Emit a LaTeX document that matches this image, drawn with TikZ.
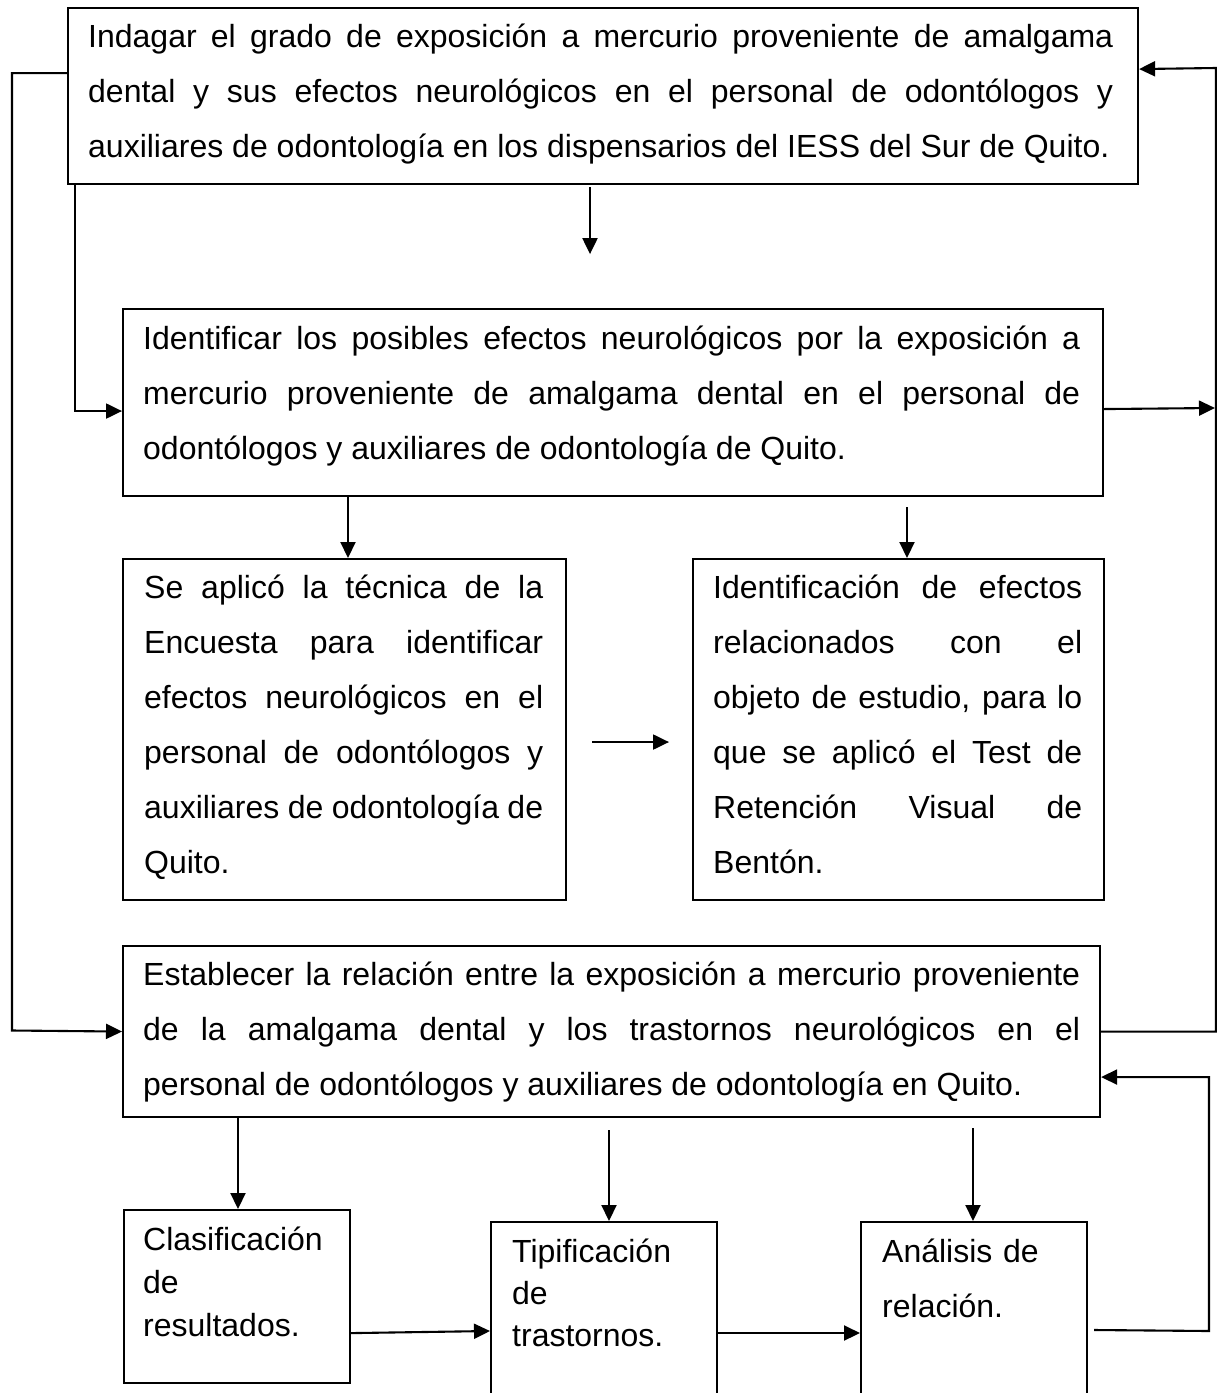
\documentclass[tikz,border=0pt]{standalone}
\usepackage{fontspec}
\setmainfont{Liberation Sans}
\usetikzlibrary{arrows.meta,calc}
\newcommand{\jl}[2]{\hbox to #1{\spaceskip=8.9pt plus 40pt minus 3pt\xspaceskip=\spaceskip #2}}
\newcommand{\lastl}[2]{\hbox to #1{\spaceskip=8.9pt plus 2pt minus 3pt\xspaceskip=\spaceskip #2\hfil}}
\begin{document}
\begin{tikzpicture}[x=1pt,y=-1pt,
  boxs/.style={draw, line width=2.1pt, anchor=north west, inner sep=0pt},
  txt/.style={anchor=north west, inner sep=0pt, align=left, font=\fontsize{32}{55}\selectfont},
  arr/.style={line width=2.1pt, -{Triangle[length=16pt,width=15pt]}}]
\clip (0,0) rectangle (1217,1393);
\fill[white] (0,0) rectangle (1217,1393);
% boxes
\node[boxs, minimum width=1070pt, minimum height=176pt] (top) at (67,7) {};
\node[boxs, minimum width=980pt, minimum height=187pt] (idn) at (122,308) {};
\node[boxs, minimum width=443pt, minimum height=341pt] (encu) at (122,558) {};
\node[boxs, minimum width=411pt, minimum height=341pt] (bent) at (692,558) {};
\node[boxs, minimum width=977pt, minimum height=171pt] (rel) at (122,945) {};
\node[boxs, minimum width=226pt, minimum height=173pt] (clas) at (123,1209) {};
\node[boxs, minimum width=226pt, minimum height=200pt] (tipi) at (490,1221) {};
\node[boxs, minimum width=226pt, minimum height=200pt] (anal) at (860,1221) {};
% texts
\node[txt, text width=1040pt] (topT) at (88,8.5) {\strut\jl{1025pt}{Indagar el grado de exposición a mercurio proveniente de amalgama}\\
\strut\jl{1025pt}{dental y sus efectos neurológicos en el personal de odontólogos y}\\
\strut\lastl{1025pt}{auxiliares de odontología en los dispensarios del IESS del Sur de Quito.}};
\node[txt, text width=950pt] (idnT) at (143,310.5) {\strut\jl{937pt}{Identificar los posibles efectos neurológicos por la exposición a}\\
\strut\jl{937pt}{mercurio proveniente de amalgama dental en el personal de}\\
\strut\lastl{937pt}{odontólogos y auxiliares de odontología de Quito.}};
\node[txt, text width=410pt] (encuT) at (144,559.5) {\strut\jl{399pt}{Se aplicó la técnica de la}\\
\strut\jl{399pt}{Encuesta para identificar}\\
\strut\jl{399pt}{efectos neurológicos en el}\\
\strut\jl{399pt}{personal de odontólogos y}\\
\strut\jl{399pt}{auxiliares de odontología de}\\
\strut\lastl{399pt}{Quito.}};
\node[txt, text width=380pt] (bentT) at (713,559.5) {\strut\jl{369pt}{Identificación de efectos}\\
\strut\jl{369pt}{relacionados con el}\\
\strut\jl{369pt}{objeto de estudio, para lo}\\
\strut\jl{369pt}{que se aplicó el Test de}\\
\strut\jl{369pt}{Retención Visual de}\\
\strut\lastl{369pt}{Bentón.}};
\node[txt, text width=950pt] (relT) at (143,946.5) {\strut\jl{937pt}{Establecer la relación entre la exposición a mercurio proveniente}\\
\strut\jl{937pt}{de la amalgama dental y los trastornos neurológicos en el}\\
\strut\lastl{937pt}{personal de odontólogos y auxiliares de odontología en Quito.}};
\node[txt, text width=200pt, font=\fontsize{32}{43}\selectfont] (clasT) at (143,1219.9) {\strut Clasificación\\\strut de\\\strut resultados.};
\node[txt, text width=200pt, font=\fontsize{32}{42}\selectfont] (tipiT) at (512,1232.6) {\strut Tipificación\\\strut de\\\strut trastornos.};
\node[txt, text width=200pt] (analT) at (882,1223.5) {\strut Análisis de\\\strut relación.};
% connectors
\coordinate (lft) at (12,1030.5);
\coordinate (r1) at (1215,408);
\coordinate (rtop) at (1216,68);
\coordinate (ra) at (1209,1331);
\draw[arr] ($(top.south west)+(8,0)$) |- ($(idn.west)+(0,8.5)$);
\draw[arr] ($(top.west)+(0,-23)$) -| (lft) -- (rel.west);
\draw[arr] ($(idn.east)+(0,6.5)$) -- (r1);
\draw[arr] (rel.east) -| (rtop) -- ($(top.east)+(0,-27)$);
\draw[arr] ($(top.south west)+(523,2)$) -- ($(top.south west)+(523,69)$);
\draw[arr] ($(idn.south west)+(226,0)$) -- ($(encu.north west)+(226,0)$);
\draw[arr] ($(bent.north west)+(215,-51)$) -- ($(bent.north west)+(215,0)$);
\draw[arr] ($(encu.east)+(25,12.5)$) -- ($(bent.west)+(-23,12.5)$);
\draw[arr] ($(rel.south west)+(116,0)$) -- ($(clas.north west)+(115,0)$);
\draw[arr] ($(tipi.north west)+(119,-91)$) -- ($(tipi.north west)+(119,0)$);
\draw[arr] ($(anal.north west)+(113,-93)$) -- ($(anal.north west)+(113,0)$);
\draw[arr] ($(clas.south east)+(0,-51)$) -- ($(tipi.north west)+(0,110)$);
\draw[arr] ($(tipi.north east)+(0,112)$) -- ($(anal.north west)+(0,112)$);
\draw[arr] ($(anal.north east)+(6,109)$) -- (ra) |- ($(rel.east)+(0,45.5)$);
\end{tikzpicture}
\end{document}
